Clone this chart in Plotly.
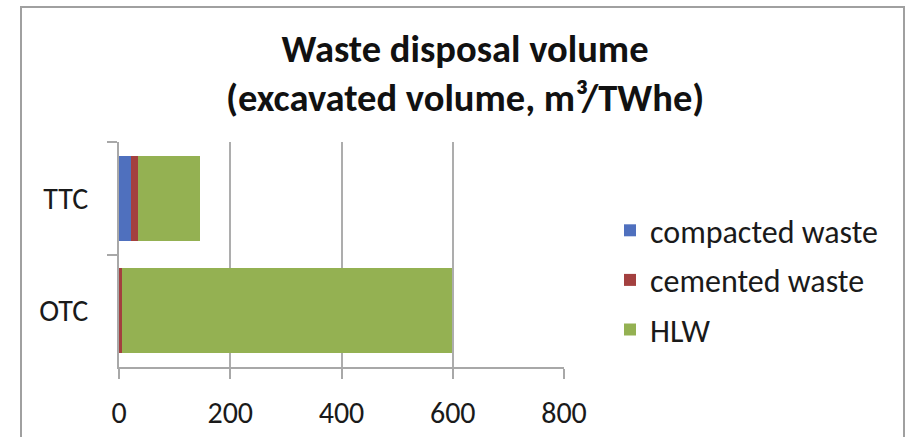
import plotly.graph_objects as go

categories = ["TTC", "OTC"]
compacted = [21, 0]
cemented = [13, 5]
hlw = [112, 594]
series_names = ["compacted waste", "cemented waste", "HLW"]
series_colors = ["#4F70BE", "#A3403F", "#94B152"]
x_ticks = [0, 200, 400, 600, 800]
title_line1 = "Waste disposal volume"
title_line2 = "(excavated volume, m³/TWhe)"

FONT = "Carlito, Lato, sans-serif"

fig = go.Figure()
for i, (name, vals, col) in enumerate(zip(series_names, [compacted, cemented, hlw], series_colors)):
    fig.add_trace(go.Bar(
        y=categories, x=vals, name=name, orientation="h",
        marker=dict(color=col, line=dict(width=0)),
        legendgroup=f"g{i}",
    ))

W, H = 906, 437
L, R, T, B = 119, 342, 142, 70
pw, ph = W - L - R, H - T - B

def px_x(p):
    return (p - L) / pw

def px_y(p):
    return (H - B - p) / ph

TXT = "#1a1a1a"

fig.update_layout(
    width=W, height=H,
    margin=dict(l=L, r=R, t=T, b=B, autoexpand=False),
    paper_bgcolor="white", plot_bgcolor="white",
    barmode="stack", bargap=0.245,
    font=dict(family=FONT, color=TXT, size=30),
    title=dict(
        text=f"<b>{title_line1}</b>",
        x=465 / W, xanchor="center", y=1 - 49 / H, yanchor="middle",
        yref="container", xref="container",
        font=dict(family=FONT, size=38.5, color="#111111"),
    ),
    annotations=[dict(
        text=f"<b>{title_line2}</b>", xref="paper", yref="paper",
        x=px_x(465), y=px_y(97), xanchor="center", yanchor="middle",
        showarrow=False, font=dict(family=FONT, size=38.5, color="#111111"),
    )],
    xaxis=dict(
        range=[0, 800], tickvals=x_ticks, showgrid=True, gridcolor="#ADADAD", gridwidth=1.5,
        showline=True, linecolor="#A8A8A8", linewidth=1.5,
        ticks="outside", ticklen=10, tickcolor="#A8A8A8", tickwidth=1.5,
        zeroline=False, tickfont=dict(size=30, color=TXT),
        ticklabelstandoff=8, fixedrange=True,
    ),
    yaxis=dict(
        autorange="reversed", type="category",
        showline=True, linecolor="#A8A8A8", linewidth=1.5,
        ticks="outside", ticklen=10, tickcolor="#A8A8A8", tickwidth=1.5,
        tickson="boundaries", showgrid=False, tickfont=dict(size=30, color=TXT),
        ticklabelstandoff=23, fixedrange=True,
    ),
    legend=dict(
        x=px_x(610), xanchor="left", y=px_y(203), yanchor="top",
        traceorder="grouped", tracegroupgap=5,
        font=dict(size=32, color=TXT),
        bgcolor="rgba(0,0,0,0)",
    ),
    shapes=[dict(
        type="rect", xref="paper", yref="paper",
        x0=px_x(21), x1=px_x(904), y0=px_y(445), y1=px_y(7),
        line=dict(color="#A0A0A0", width=2), fillcolor="rgba(0,0,0,0)", layer="below",
    )],
)

fig.write_html("out.html")
